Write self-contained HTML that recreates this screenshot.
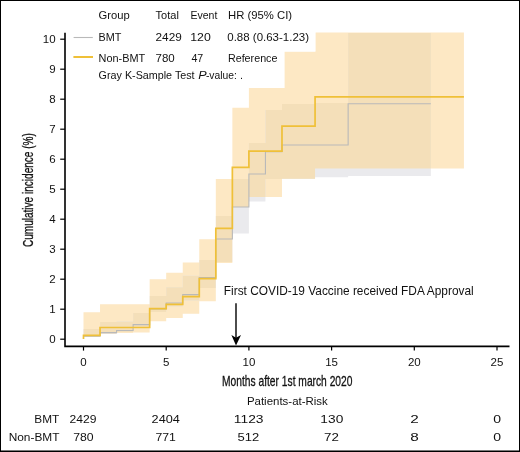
<!DOCTYPE html>
<html><head><meta charset="utf-8"><style>
html,body{margin:0;padding:0;background:#fff;}
body{width:520px;height:452px;overflow:hidden;position:relative;font-family:"Liberation Sans",sans-serif;}
.frame{position:absolute;left:0;top:0;width:520px;height:452px;box-sizing:border-box;border-style:solid;border-color:#000;border-width:1px;}
svg{position:absolute;left:0;top:0;will-change:transform;}
</style></head><body>
<svg width="520" height="452" viewBox="0 0 520 452">
<defs><clipPath id="oc"><path d="M83.50,312.20 L100.04,312.20 L100.04,304.20 L116.58,304.20 L116.58,304.20 L133.12,304.20 L133.12,304.20 L149.66,304.20 L149.66,279.30 L166.20,279.30 L166.20,272.70 L182.74,272.70 L182.74,262.60 L199.28,262.60 L199.28,239.20 L215.82,239.20 L215.82,179.00 L232.36,179.00 L232.36,107.80 L248.90,107.80 L248.90,87.60 L281.98,87.60 L281.98,51.40 L315.06,51.40 L315.06,32.50 L463.92,32.50 L463.92,168.60 L315.06,168.60 L315.06,179.00 L281.98,179.00 L281.98,197.00 L248.90,197.00 L248.90,207.00 L232.36,207.00 L232.36,263.00 L215.82,263.00 L215.82,301.30 L199.28,301.30 L199.28,313.80 L182.74,313.80 L182.74,318.00 L166.20,318.00 L166.20,321.20 L149.66,321.20 L149.66,332.50 L133.12,332.50 L133.12,333.00 L116.58,333.00 L116.58,333.50 L100.04,333.50 L100.04,336.50 L83.50,336.50 Z"/></clipPath></defs>
<path d="M83.50,312.20 L100.04,312.20 L100.04,304.20 L116.58,304.20 L116.58,304.20 L133.12,304.20 L133.12,304.20 L149.66,304.20 L149.66,279.30 L166.20,279.30 L166.20,272.70 L182.74,272.70 L182.74,262.60 L199.28,262.60 L199.28,239.20 L215.82,239.20 L215.82,179.00 L232.36,179.00 L232.36,107.80 L248.90,107.80 L248.90,87.60 L281.98,87.60 L281.98,51.40 L315.06,51.40 L315.06,32.50 L463.92,32.50 L463.92,168.60 L315.06,168.60 L315.06,179.00 L281.98,179.00 L281.98,197.00 L248.90,197.00 L248.90,207.00 L232.36,207.00 L232.36,263.00 L215.82,263.00 L215.82,301.30 L199.28,301.30 L199.28,313.80 L182.74,313.80 L182.74,318.00 L166.20,318.00 L166.20,321.20 L149.66,321.20 L149.66,332.50 L133.12,332.50 L133.12,333.00 L116.58,333.00 L116.58,333.50 L100.04,333.50 L100.04,336.50 L83.50,336.50 Z" fill="#fde8c4"/>
<path d="M83.50,329.00 L100.04,329.00 L100.04,322.00 L116.58,322.00 L116.58,321.60 L133.12,321.60 L133.12,313.00 L149.66,313.00 L149.66,296.00 L166.20,296.00 L166.20,287.30 L182.74,287.30 L182.74,275.80 L199.28,275.80 L199.28,260.00 L215.82,260.00 L215.82,216.00 L232.36,216.00 L232.36,179.00 L248.90,179.00 L248.90,143.00 L265.44,143.00 L265.44,110.00 L281.98,110.00 L281.98,104.00 L315.06,104.00 L315.06,103.00 L348.14,103.00 L348.14,33.00 L430.84,33.00 L430.84,176.00 L348.14,176.00 L348.14,177.30 L315.06,177.30 L315.06,178.80 L281.98,178.80 L281.98,179.00 L265.44,179.00 L265.44,201.40 L248.90,201.40 L248.90,233.50 L232.36,233.50 L232.36,262.00 L215.82,262.00 L215.82,288.00 L199.28,288.00 L199.28,300.50 L182.74,300.50 L182.74,306.50 L166.20,306.50 L166.20,312.00 L149.66,312.00 L149.66,327.00 L133.12,327.00 L133.12,332.00 L116.58,332.00 L116.58,334.00 L100.04,334.00 L100.04,335.00 L83.50,335.00 Z" fill="#eaeaed"/>
<path d="M83.50,329.00 L100.04,329.00 L100.04,322.00 L116.58,322.00 L116.58,321.60 L133.12,321.60 L133.12,313.00 L149.66,313.00 L149.66,296.00 L166.20,296.00 L166.20,287.30 L182.74,287.30 L182.74,275.80 L199.28,275.80 L199.28,260.00 L215.82,260.00 L215.82,216.00 L232.36,216.00 L232.36,179.00 L248.90,179.00 L248.90,143.00 L265.44,143.00 L265.44,110.00 L281.98,110.00 L281.98,104.00 L315.06,104.00 L315.06,103.00 L348.14,103.00 L348.14,33.00 L430.84,33.00 L430.84,176.00 L348.14,176.00 L348.14,177.30 L315.06,177.30 L315.06,178.80 L281.98,178.80 L281.98,179.00 L265.44,179.00 L265.44,201.40 L248.90,201.40 L248.90,233.50 L232.36,233.50 L232.36,262.00 L215.82,262.00 L215.82,288.00 L199.28,288.00 L199.28,300.50 L182.74,300.50 L182.74,306.50 L166.20,306.50 L166.20,312.00 L149.66,312.00 L149.66,327.00 L133.12,327.00 L133.12,332.00 L116.58,332.00 L116.58,334.00 L100.04,334.00 L100.04,335.00 L83.50,335.00 Z" fill="#f4dfb9" clip-path="url(#oc)"/>
<rect x="96" y="6" width="219.6" height="45.6" fill="#fff"/>
<rect x="96" y="51" width="188.6" height="37" fill="#fff"/>
<path d="M83.50,336.20 L100.04,336.20 L100.04,332.60 L116.58,332.60 L116.58,330.50 L133.12,330.50 L133.12,324.60 L149.66,324.60 L149.66,309.00 L166.20,309.00 L166.20,303.00 L182.74,303.00 L182.74,294.60 L199.28,294.60 L199.28,277.50 L215.82,277.50 L215.82,239.00 L232.36,239.00 L232.36,207.00 L248.90,207.00 L248.90,174.00 L265.44,174.00 L265.44,151.60 L281.98,151.60 L281.98,145.00 L348.14,145.00 L348.14,103.80 L430.84,103.80" fill="none" stroke="#b9b9b9" stroke-width="1.1"/>
<path d="M83.50,339.00 L83.50,335.40 L100.04,335.40 L100.04,327.50 L149.66,327.50 L149.66,308.60 L166.20,308.60 L166.20,304.40 L182.74,304.40 L182.74,296.60 L199.28,296.60 L199.28,278.60 L215.82,278.60 L215.82,228.40 L232.36,228.40 L232.36,167.40 L248.90,167.40 L248.90,151.10 L281.98,151.10 L281.98,126.20 L315.06,126.20 L315.06,96.80 L463.92,96.80" fill="none" stroke="#efc038" stroke-width="1.7"/>
<path d="M65.0,32.8 L65.0,346.4 L509.5,346.4" stroke="#000" stroke-width="1.6" fill="none"/>
<g stroke="#000" stroke-width="1.2">
<line x1="60.2" y1="339.20" x2="65" y2="339.20"/>
<line x1="60.2" y1="309.20" x2="65" y2="309.20"/>
<line x1="60.2" y1="279.20" x2="65" y2="279.20"/>
<line x1="60.2" y1="249.20" x2="65" y2="249.20"/>
<line x1="60.2" y1="219.20" x2="65" y2="219.20"/>
<line x1="60.2" y1="189.20" x2="65" y2="189.20"/>
<line x1="60.2" y1="159.20" x2="65" y2="159.20"/>
<line x1="60.2" y1="129.20" x2="65" y2="129.20"/>
<line x1="60.2" y1="99.20" x2="65" y2="99.20"/>
<line x1="60.2" y1="69.20" x2="65" y2="69.20"/>
<line x1="60.2" y1="39.20" x2="65" y2="39.20"/>
<line x1="83.50" y1="346.5" x2="83.50" y2="350.6"/>
<line x1="166.20" y1="346.5" x2="166.20" y2="350.6"/>
<line x1="248.90" y1="346.5" x2="248.90" y2="350.6"/>
<line x1="331.60" y1="346.5" x2="331.60" y2="350.6"/>
<line x1="414.30" y1="346.5" x2="414.30" y2="350.6"/>
<line x1="497.00" y1="346.5" x2="497.00" y2="350.6"/>
</g>
<g font-family="Liberation Sans" font-size="11.5" fill="#111">
<text x="55.6" y="343.20" text-anchor="end">0</text>
<text x="55.6" y="313.20" text-anchor="end">1</text>
<text x="55.6" y="283.20" text-anchor="end">2</text>
<text x="55.6" y="253.20" text-anchor="end">3</text>
<text x="55.6" y="223.20" text-anchor="end">4</text>
<text x="55.6" y="193.20" text-anchor="end">5</text>
<text x="55.6" y="163.20" text-anchor="end">6</text>
<text x="55.6" y="133.20" text-anchor="end">7</text>
<text x="55.6" y="103.20" text-anchor="end">8</text>
<text x="55.6" y="73.20" text-anchor="end">9</text>
<text x="55.6" y="43.20" text-anchor="end">10</text>
<text x="83.50" y="366" text-anchor="middle">0</text>
<text x="166.20" y="366" text-anchor="middle">5</text>
<text x="248.90" y="366" text-anchor="middle">10</text>
<text x="331.60" y="366" text-anchor="middle">15</text>
<text x="414.30" y="366" text-anchor="middle">20</text>
<text x="497.00" y="366" text-anchor="middle">25</text>
</g>
<text transform="translate(32.9,247.1) rotate(-90)" x="0" y="0" font-family="Liberation Sans" font-size="14.4" textLength="114" lengthAdjust="spacingAndGlyphs" fill="#111" stroke="#111" stroke-width="0.3">Cumulative incidence (%)</text>
<line x1="73.6" y1="37.5" x2="92.8" y2="37.5" stroke="#b9b9b9" stroke-width="1.1"/>
<line x1="73.4" y1="57.0" x2="93.0" y2="57.0" stroke="#efc038" stroke-width="2"/>
<g font-family="Liberation Sans" fill="#111">
<text x="98.59" y="19.30" font-size="11.0" textLength="31.19" lengthAdjust="spacingAndGlyphs">Group</text>
<text x="155.60" y="19.30" font-size="11.0" textLength="23.25" lengthAdjust="spacingAndGlyphs">Total</text>
<text x="190.45" y="19.30" font-size="11.0" textLength="26.89" lengthAdjust="spacingAndGlyphs">Event</text>
<text x="228.05" y="19.30" font-size="11.0" textLength="64.03" lengthAdjust="spacingAndGlyphs">HR (95% CI)</text>
<text x="98.61" y="41.10" font-size="11.0" textLength="22.83" lengthAdjust="spacingAndGlyphs">BMT</text>
<text x="155.54" y="41.10" font-size="11.0" textLength="26.21" lengthAdjust="spacingAndGlyphs">2429</text>
<text x="190.26" y="41.10" font-size="11.0" textLength="20.52" lengthAdjust="spacingAndGlyphs">120</text>
<text x="227.30" y="41.10" font-size="11.0" textLength="81.70" lengthAdjust="spacingAndGlyphs">0.88 (0.63-1.23)</text>
<text x="98.61" y="61.50" font-size="11.0" textLength="46.65" lengthAdjust="spacingAndGlyphs">Non-BMT</text>
<text x="155.56" y="61.50" font-size="11.0" textLength="19.24" lengthAdjust="spacingAndGlyphs">780</text>
<text x="191.40" y="61.50" font-size="11.0" textLength="11.85" lengthAdjust="spacingAndGlyphs">47</text>
<text x="227.92" y="61.50" font-size="11.0" textLength="49.55" lengthAdjust="spacingAndGlyphs">Reference</text>
<text x="98.62" y="79.10" font-size="11.0" textLength="96.01" lengthAdjust="spacingAndGlyphs">Gray K-Sample Test</text>
<text x="198.36" y="79.10" font-size="11.0" textLength="8.43" lengthAdjust="spacingAndGlyphs" font-style="italic">P</text>
<text x="205.93" y="79.10" font-size="11.0" textLength="30.93" lengthAdjust="spacingAndGlyphs">-value:</text>
<text x="239.92" y="79.10" font-size="11.0" textLength="3.00" lengthAdjust="spacingAndGlyphs">.</text>
<text x="223.81" y="294.50" font-size="12.1" textLength="249.91" lengthAdjust="spacingAndGlyphs">First COVID-19 Vaccine received FDA Approval</text>
<text x="246.91" y="405.20" font-size="11.7" textLength="80.89" lengthAdjust="spacingAndGlyphs">Patients-at-Risk</text>
<text x="34.34" y="423.20" font-size="11.6" textLength="24.98" lengthAdjust="spacingAndGlyphs">BMT</text>
<text x="8.67" y="441.20" font-size="11.6" textLength="50.85" lengthAdjust="spacingAndGlyphs">Non-BMT</text>
<text x="69.60" y="423.20" font-size="11.6" textLength="26.96" lengthAdjust="spacingAndGlyphs">2429</text>
<text x="151.57" y="423.20" font-size="11.6" textLength="28.30" lengthAdjust="spacingAndGlyphs">2404</text>
<text x="233.81" y="423.20" font-size="11.6" textLength="29.74" lengthAdjust="spacingAndGlyphs">1123</text>
<text x="320.38" y="423.20" font-size="11.6" textLength="22.88" lengthAdjust="spacingAndGlyphs">130</text>
<text x="410.31" y="423.20" font-size="11.6" textLength="8.53" lengthAdjust="spacingAndGlyphs">2</text>
<text x="493.34" y="423.20" font-size="11.6" textLength="7.81" lengthAdjust="spacingAndGlyphs">0</text>
<text x="73.25" y="441.20" font-size="11.6" textLength="20.42" lengthAdjust="spacingAndGlyphs">780</text>
<text x="155.46" y="441.20" font-size="11.6" textLength="20.43" lengthAdjust="spacingAndGlyphs">771</text>
<text x="237.44" y="441.20" font-size="11.6" textLength="21.71" lengthAdjust="spacingAndGlyphs">512</text>
<text x="324.09" y="441.20" font-size="11.6" textLength="14.86" lengthAdjust="spacingAndGlyphs">72</text>
<text x="410.31" y="441.20" font-size="11.6" textLength="8.53" lengthAdjust="spacingAndGlyphs">8</text>
<text x="493.34" y="441.20" font-size="11.6" textLength="7.81" lengthAdjust="spacingAndGlyphs">0</text>
<text x="222.03" y="386.20" font-size="14.6" textLength="130.44" lengthAdjust="spacingAndGlyphs" stroke="#111" stroke-width="0.3">Months after 1st march 2020</text>
</g>
<rect x="0" y="450" width="520" height="1" fill="#7a7a7a"/>
<line x1="236" y1="303.3" x2="236" y2="340" stroke="#000" stroke-width="1.4"/>
<path d="M231.4,334.9 L236,337.7 L241,334.9 L236,345.4 Z" fill="#000"/>
</svg>
<div class="frame"></div>
</body></html>
